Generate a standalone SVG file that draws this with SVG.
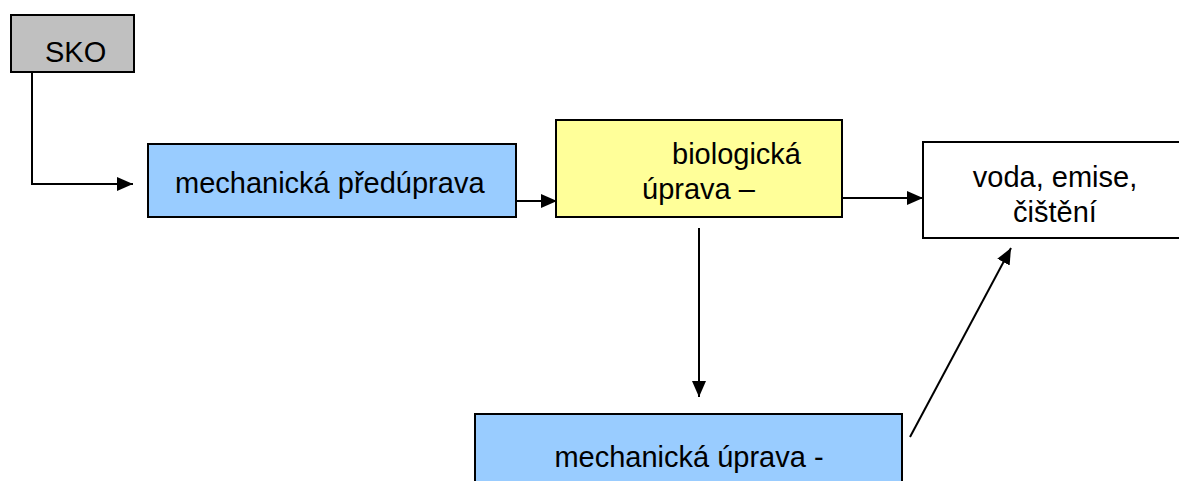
<svg xmlns="http://www.w3.org/2000/svg" width="1179" height="481" viewBox="0 0 1179 481">
<style>
.box{stroke:#000;stroke-width:2}
.t{font-family:"Liberation Sans",Arial,sans-serif;font-size:29px;fill:#000}
.c{fill:none;stroke:#000;stroke-width:2}
</style>
<defs>
<marker id="ah" markerUnits="userSpaceOnUse" markerWidth="17" markerHeight="15" refX="16" refY="7" orient="auto">
<path d="M0,0 L16,7 L0,14 z" fill="#000"/>
</marker>
</defs>
<rect width="1179" height="481" fill="#fff"/>
<g id="connectors">
<path class="c" d="M32,72 V184 H133" marker-end="url(#ah)"/>
<path class="c" d="M516,201 H557" marker-end="url(#ah)"/>
<path class="c" d="M842,198 H923" marker-end="url(#ah)"/>
<path class="c" d="M699,228 V397" marker-end="url(#ah)"/>
<path class="c" d="M910,437 L1011,248" stroke-width="1.5" marker-end="url(#ah)"/>
</g>
<g id="sko">
<rect class="box" x="11" y="15" width="123" height="57" fill="#C0C0C0"/>
<text class="t" x="45" y="62">SKO</text>
</g>
<g id="mech-predupr">
<rect class="box" x="148" y="144" width="368" height="73" fill="#99CCFF"/>
<text class="t" x="175" y="193">mechanická předúprava</text>
</g>
<g id="bio">
<rect class="box" x="556" y="120" width="286" height="97" fill="#FFFF99"/>
<text class="t" x="672" y="164">biologická</text>
<text class="t" x="642" y="199">úprava –</text>
</g>
<g id="voda">
<rect class="box" x="923" y="142" width="264" height="96" fill="#fff"/>
<text class="t" x="1055" y="187" text-anchor="middle">voda, emise,</text>
<text class="t" x="1055" y="222" text-anchor="middle">čištění</text>
</g>
<g id="mech-uprava">
<rect class="box" x="475" y="414" width="427" height="80" fill="#99CCFF"/>
<text class="t" x="689" y="467" text-anchor="middle">mechanická úprava -</text>
</g>
</svg>
